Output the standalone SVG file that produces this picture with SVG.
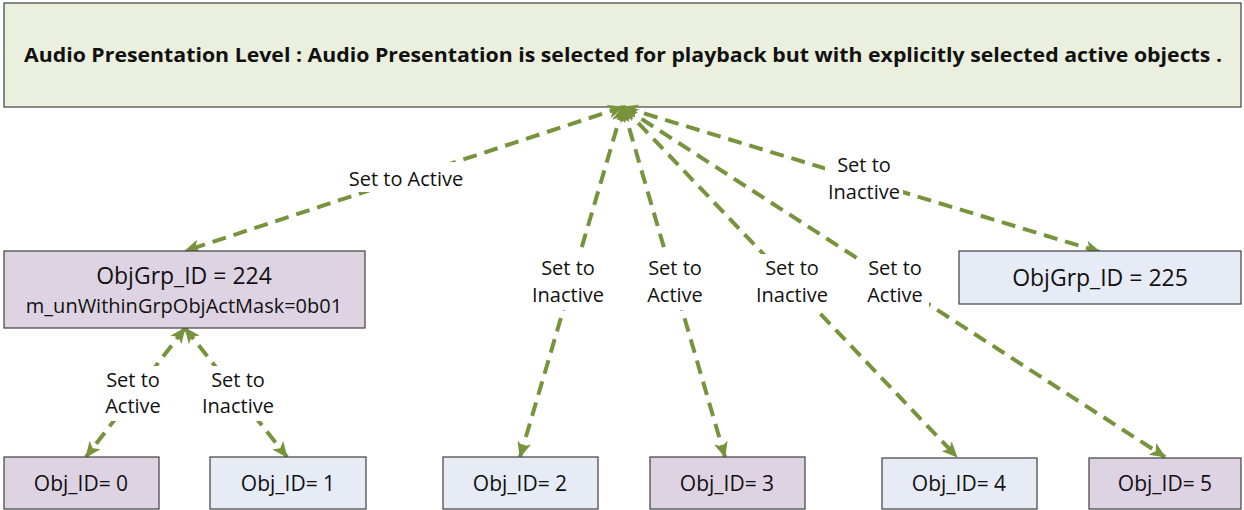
<svg xmlns="http://www.w3.org/2000/svg" width="1244" height="510" viewBox="0 0 1244 510">
<style>
.box{stroke:#404040;stroke-width:1.2}
.top{fill:#EBEFDD}
.pur{fill:#DED3E3}
.blu{fill:#E6EBF5}
.t{font-family:"Open Sans","Noto Sans","Liberation Sans",sans-serif;fill:#111;text-anchor:middle}
.title{font-family:"Open Sans","Liberation Sans",sans-serif;font-weight:bold;font-size:19px;fill:#111;text-anchor:middle}
.lbl{font-family:"Open Sans","Noto Sans","Liberation Sans",sans-serif;font-size:20px;fill:#111;text-anchor:middle}
.conn{fill:none;stroke:#77933C;stroke-width:4;stroke-dasharray:14 8}
.bg{fill:#fff}
</style>
<defs>
<marker id="ah" viewBox="0 0 16 14" refX="15" refY="7" markerWidth="16" markerHeight="14" markerUnits="userSpaceOnUse" orient="auto-start-reverse">
<path d="M0,0 L16,7 L0,14 L4,7 z" fill="#77933C"/>
</marker>
</defs>
<g id="n-top"><rect class="box top" x="4" y="3" width="1237" height="104"/>
<text class="title" x="623" y="62" textLength="1198" lengthAdjust="spacingAndGlyphs">Audio Presentation Level : Audio Presentation is selected for playback but with explicitly selected active objects .</text></g>
<g id="connectors">
<path class="conn" d="M623,107 L185,251" marker-start="url(#ah)" marker-end="url(#ah)"/>
<path class="conn" d="M623,107 L520,457" marker-start="url(#ah)" marker-end="url(#ah)"/>
<path class="conn" d="M623,107 L725,457" marker-start="url(#ah)" marker-end="url(#ah)"/>
<path class="conn" d="M623,107 L957,457" marker-start="url(#ah)" marker-end="url(#ah)"/>
<path class="conn" d="M623,107 L1165,457" marker-start="url(#ah)" marker-end="url(#ah)"/>
<path class="conn" d="M623,107 L1100,252" marker-start="url(#ah)" marker-end="url(#ah)"/>
<path class="conn" d="M185,328 L86,457" marker-start="url(#ah)" marker-end="url(#ah)"/>
<path class="conn" d="M185,328 L287,457" marker-start="url(#ah)" marker-end="url(#ah)"/>
</g>
<g id="labels">
<rect class="bg" x="343" y="162" width="126" height="30"/>
<text class="lbl" x="406" y="186">Set to Active</text>
<rect class="bg" x="530" y="254" width="76" height="56"/>
<text class="lbl" x="568" y="275">Set to</text><text class="lbl" x="568" y="302">Inactive</text>
<rect class="bg" x="641" y="254" width="68" height="56"/>
<text class="lbl" x="675" y="275">Set to</text><text class="lbl" x="675" y="302">Active</text>
<rect class="bg" x="753" y="254" width="78" height="56"/>
<text class="lbl" x="792" y="275">Set to</text><text class="lbl" x="792" y="302">Inactive</text>
<rect class="bg" x="861" y="254" width="68" height="56"/>
<text class="lbl" x="895" y="275">Set to</text><text class="lbl" x="895" y="302">Active</text>
<rect class="bg" x="825" y="151" width="78" height="55"/>
<text class="lbl" x="864" y="172">Set to</text><text class="lbl" x="864" y="199">Inactive</text>
<rect class="bg" x="99" y="366" width="68" height="55"/>
<text class="lbl" x="133" y="387">Set to</text><text class="lbl" x="133" y="413">Active</text>
<rect class="bg" x="199" y="366" width="78" height="55"/>
<text class="lbl" x="238" y="387">Set to</text><text class="lbl" x="238" y="413">Inactive</text>
</g>
<g id="n-grp224"><rect class="box pur" x="4" y="251" width="361" height="77"/>
<text class="t" x="184" y="284" font-size="23">ObjGrp_ID = 224</text>
<text class="t" x="184" y="313" font-size="20">m_unWithinGrpObjActMask=0b01</text></g>
<g id="n-grp225"><rect class="box blu" x="959" y="251" width="282" height="53"/>
<text class="t" x="1100" y="286" font-size="23">ObjGrp_ID = 225</text></g>
<g id="n-obj0"><rect class="box pur" x="4" y="457" width="155" height="52"/><text class="t" x="81" y="491" font-size="21">Obj_ID= 0</text></g>
<g id="n-obj1"><rect class="box blu" x="210" y="457" width="156" height="52"/><text class="t" x="288" y="491" font-size="21">Obj_ID= 1</text></g>
<g id="n-obj2"><rect class="box blu" x="443" y="457" width="155" height="52"/><text class="t" x="520" y="491" font-size="21">Obj_ID= 2</text></g>
<g id="n-obj3"><rect class="box pur" x="650" y="457" width="155" height="52"/><text class="t" x="727" y="491" font-size="21">Obj_ID= 3</text></g>
<g id="n-obj4"><rect class="box blu" x="882" y="458" width="155" height="51"/><text class="t" x="959" y="491" font-size="21">Obj_ID= 4</text></g>
<g id="n-obj5"><rect class="box pur" x="1089" y="458" width="152" height="51"/><text class="t" x="1165" y="491" font-size="21">Obj_ID= 5</text></g>
</svg>
